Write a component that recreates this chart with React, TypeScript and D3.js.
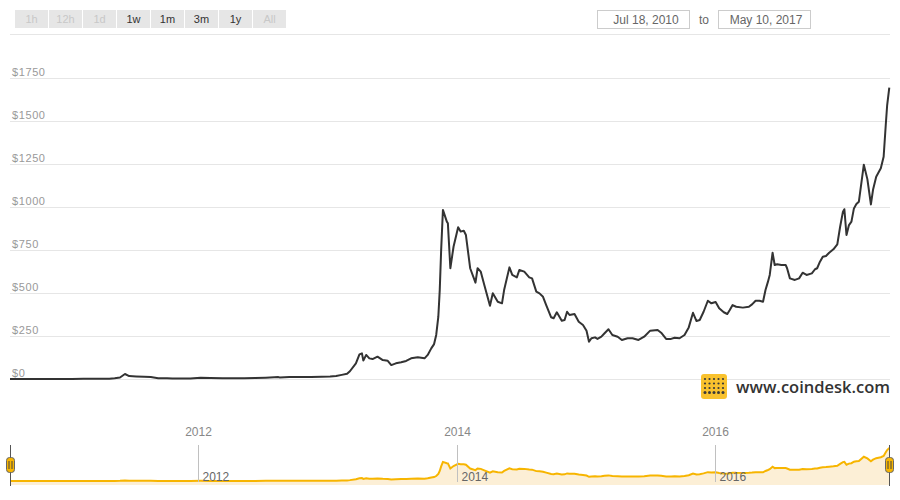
import React from "react";
import * as d3 from "d3";

const dates: string[] = [
  "2010-07-18","2010-08-20","2010-10-05","2010-11-08","2010-12-10","2011-01-10","2011-02-10","2011-03-10",
  "2011-04-01","2011-04-25","2011-05-10","2011-05-25","2011-06-08","2011-06-20","2011-07-10","2011-08-01",
  "2011-08-20","2011-09-10","2011-10-05","2011-10-20","2011-11-18","2011-12-10","2012-01-08","2012-02-05",
  "2012-03-10","2012-04-10","2012-05-10","2012-06-10","2012-07-10","2012-08-15","2012-08-19","2012-09-15",
  "2012-10-15","2012-11-15","2012-12-15","2013-01-08","2013-01-25","2013-02-10","2013-02-25","2013-03-05",
  "2013-03-22","2013-04-01","2013-04-08","2013-04-12","2013-04-20","2013-04-29","2013-05-08","2013-05-22",
  "2013-06-06","2013-06-20","2013-06-30","2013-07-13","2013-07-28","2013-08-11","2013-08-25","2013-09-13",
  "2013-10-02","2013-10-11","2013-10-21","2013-10-29","2013-11-04","2013-11-10","2013-11-14","2013-11-18",
  "2013-11-23","2013-12-04","2013-12-07","2013-12-14","2013-12-23","2014-01-05","2014-01-12","2014-01-21",
  "2014-01-27","2014-02-08","2014-02-23","2014-03-01","2014-03-10","2014-03-20","2014-04-05","2014-04-13",
  "2014-04-27","2014-05-09","2014-05-15","2014-05-30","2014-06-07","2014-06-20","2014-06-27","2014-07-11",
  "2014-07-25","2014-08-02","2014-08-14","2014-08-23","2014-09-02","2014-09-11","2014-09-25","2014-10-02",
  "2014-10-11","2014-10-25","2014-11-02","2014-11-09","2014-11-16","2014-11-30","2014-12-12","2014-12-24",
  "2015-01-03","2015-01-10","2015-01-17","2015-01-27","2015-02-03","2015-02-14","2015-02-23","2015-03-06",
  "2015-03-17","2015-04-01","2015-04-13","2015-04-29","2015-05-13","2015-05-30","2015-06-15","2015-07-02",
  "2015-07-23","2015-08-02","2015-08-16","2015-08-30","2015-09-09","2015-09-23","2015-10-07","2015-10-19",
  "2015-10-31","2015-11-10","2015-11-19","2015-11-30","2015-12-12","2015-12-22","2016-01-03","2016-01-13",
  "2016-01-26","2016-02-05","2016-02-12","2016-02-20","2016-03-01","2016-03-20","2016-04-06","2016-04-15",
  "2016-04-25","2016-05-06","2016-05-16","2016-05-23","2016-05-30","2016-06-04","2016-06-12","2016-06-18",
  "2016-06-25","2016-07-07","2016-07-19","2016-07-23","2016-07-31","2016-08-14","2016-08-26","2016-09-05",
  "2016-09-16","2016-10-01","2016-10-10","2016-10-16","2016-10-24","2016-11-01","2016-11-10","2016-11-19",
  "2016-12-01","2016-12-12","2016-12-20","2016-12-28","2017-01-01","2017-01-07","2017-01-14","2017-01-21",
  "2017-01-28","2017-02-04","2017-02-11","2017-02-25","2017-03-07","2017-03-17","2017-03-23","2017-04-01",
  "2017-04-14","2017-04-22","2017-04-28","2017-05-02","2017-05-08",
];

const prices: number[] = [
  0.07,0.07,0.06,0.3,0.23,0.3,1.0,0.9,
  0.8,1.7,5,9,29,17,15,13,
  11,5,4.8,2.8,2.2,3.1,7,5.8,
  4.9,4.9,5,5.6,7.5,11,9,11.7,
  11.8,11,13.4,14,17,24,30,45,
  91,143,149,107,140,120,116,130,
  110,106,81,91,97,105,120,126,
  120,140,178,203,256,362,517,750,
  983,915,905,644,769,882,857,862,
  837,644,560,644,624,547,426,498,
  449,440,517,649,605,591,634,624,
  591,585,508,498,478,430,359,353,
  388,339,343,391,372,378,333,314,
  280,217,237,242,233,246,266,289,
  256,246,227,237,237,227,246,281,
  285,269,233,233,240,237,256,300,
  385,337,343,391,455,440,448,411,
  388,378,401,430,420,415,420,434,
  455,455,449,517,566,605,734,663,
  667,663,663,644,585,576,585,618,
  605,614,638,644,682,711,715,734,
  754,783,885,973,987,837,895,915,
  992,1017,1031,1246,1162,1015,1100,1176,
  1225,1292,1477,1593,1694,
];

const yTicks: number[] = [0, 250, 500, 750, 1000, 1250, 1500, 1750];
const xTickYears: number[] = [2012, 2014, 2016];
const rangeButtons: string[] = ["1h", "12h", "1d", "1w", "1m", "3m", "1y", "All"];
const buttonEnabled: boolean[] = [false, false, false, true, true, true, true, false];
const rangeFrom = "Jul 18, 2010";
const rangeTo = "May 10, 2017";
const startDate = "2010-07-18";
const endDate = "2017-05-10";

const FONT = "'Liberation Sans', Arial, sans-serif";

export default function App() {
  const parse = d3.timeParse("%Y-%m-%d");
  const data = dates.map((d, i) => ({ date: parse(d) as Date, value: prices[i] }));

  const x = d3.scaleTime().domain([parse(startDate) as Date, parse(endDate) as Date]).range([10, 890]);
  const y = d3.scaleLinear().domain([0, 1750]).range([379, 78]);
  const yNav = d3.scaleLinear().domain([0, 1750]).range([481, 447]);

  const line = d3.line<{ date: Date; value: number }>()
    .x((d) => x(d.date))
    .y((d) => y(d.value))
    .curve(d3.curveLinear);
  const navLine = d3.line<{ date: Date; value: number }>()
    .x((d) => x(d.date))
    .y((d) => yNav(d.value));
  const navArea = d3.area<{ date: Date; value: number }>()
    .x((d) => x(d.date))
    .y0(485)
    .y1((d) => yNav(d.value));

  const handle = (hx: number) => (
    <g>
      <line x1={hx} x2={hx} y1={445} y2={486} stroke="#555" strokeWidth={1} />
      <rect x={hx - 4} y={457.5} width={8} height={15} rx={3} fill="#f7b500" stroke="#666" strokeWidth={1} />
      <line x1={hx - 1.5} x2={hx - 1.5} y1={461} y2={469} stroke="#444" strokeWidth={1} />
      <line x1={hx + 1.5} x2={hx + 1.5} y1={461} y2={469} stroke="#444" strokeWidth={1} />
    </g>
  );

  const dotRows = [0, 1, 2, 3];
  const dotCols = [0, 1, 2, 3, 4];

  return (
    <svg width={900} height={500} style={{ position: "absolute", left: 0, top: 0, background: "#fff" }} fontFamily={FONT}>
      {/* range buttons */}
      {rangeButtons.map((b, i) => (
        <g key={b}>
          <rect x={15 + i * 34} y={10} width={33} height={18} fill="#e6e6e6" />
          <text x={15 + i * 34 + 16.5} y={23} textAnchor="middle" fontSize={11}
            fill={buttonEnabled[i] ? "#333" : "#c8c8c8"}>{b}</text>
        </g>
      ))}
      {/* date inputs */}
      <rect x={597.5} y={10.5} width={92} height={18} fill="#fff" stroke="#ccc" />
      <text x={646} y={24} textAnchor="middle" fontSize={12} fill="#666">{rangeFrom}</text>
      <text x={699} y={24} fontSize={12} fill="#666">to</text>
      <rect x={718.5} y={10.5} width={92} height={18} fill="#fff" stroke="#ccc" />
      <text x={766} y={24} textAnchor="middle" fontSize={12} fill="#666">{rangeTo}</text>
      <line x1={10} x2={890} y1={34.5} y2={34.5} stroke="#e6e6e6" />

      {/* grid + y labels */}
      {yTicks.map((t) => (
        <g key={t}>
          <line x1={10} x2={890} y1={Math.round(y(t)) + 0.5} y2={Math.round(y(t)) + 0.5} stroke="#e6e6e6" />
          <text x={12} y={y(t) - 2} fontSize={11} fill="#999" letterSpacing={0.6}>{"$" + t}</text>
        </g>
      ))}

      {/* main line */}
      <path d={line(data) || ""} fill="none" stroke="#333" strokeWidth={2} strokeLinejoin="round" />

      {/* logo */}
      <rect x={701} y={374} width={26} height={25} rx={3} fill="#f9c22e" />
      {dotRows.map((r) =>
        dotCols.map((c) => (
          <circle key={r + "-" + c} cx={705 + c * 4.5} cy={379 + r * 4.5} r={r === 3 ? 1.5 : 1.1} fill="#3a3a3a" />
        ))
      )}
      <text x={736} y={393} fontSize={17} fontFamily="'Open Sans', sans-serif" fontWeight={600} fill="#333"
        textLength={154} lengthAdjust="spacingAndGlyphs">www.coindesk.com</text>

      {/* navigator */}
      <path d={navArea(data) || ""} fill="#fcefd6" />
      <path d={navLine(data) || ""} fill="none" stroke="#f7b500" strokeWidth={2} />
      {xTickYears.map((yr) => {
        const tx = Math.round(x(new Date(yr, 0, 1))) + 0.5;
        return (
          <g key={yr}>
            <line x1={tx} x2={tx} y1={445} y2={482} stroke="#c0c0c0" />
            <text x={tx} y={436} textAnchor="middle" fontSize={12} fill="#888">{yr}</text>
            <text x={tx + 4} y={481} fontSize={12} fill="#666">{yr}</text>
          </g>
        );
      })}
      {handle(10.5)}
      {handle(889.5)}
    </svg>
  );
}
